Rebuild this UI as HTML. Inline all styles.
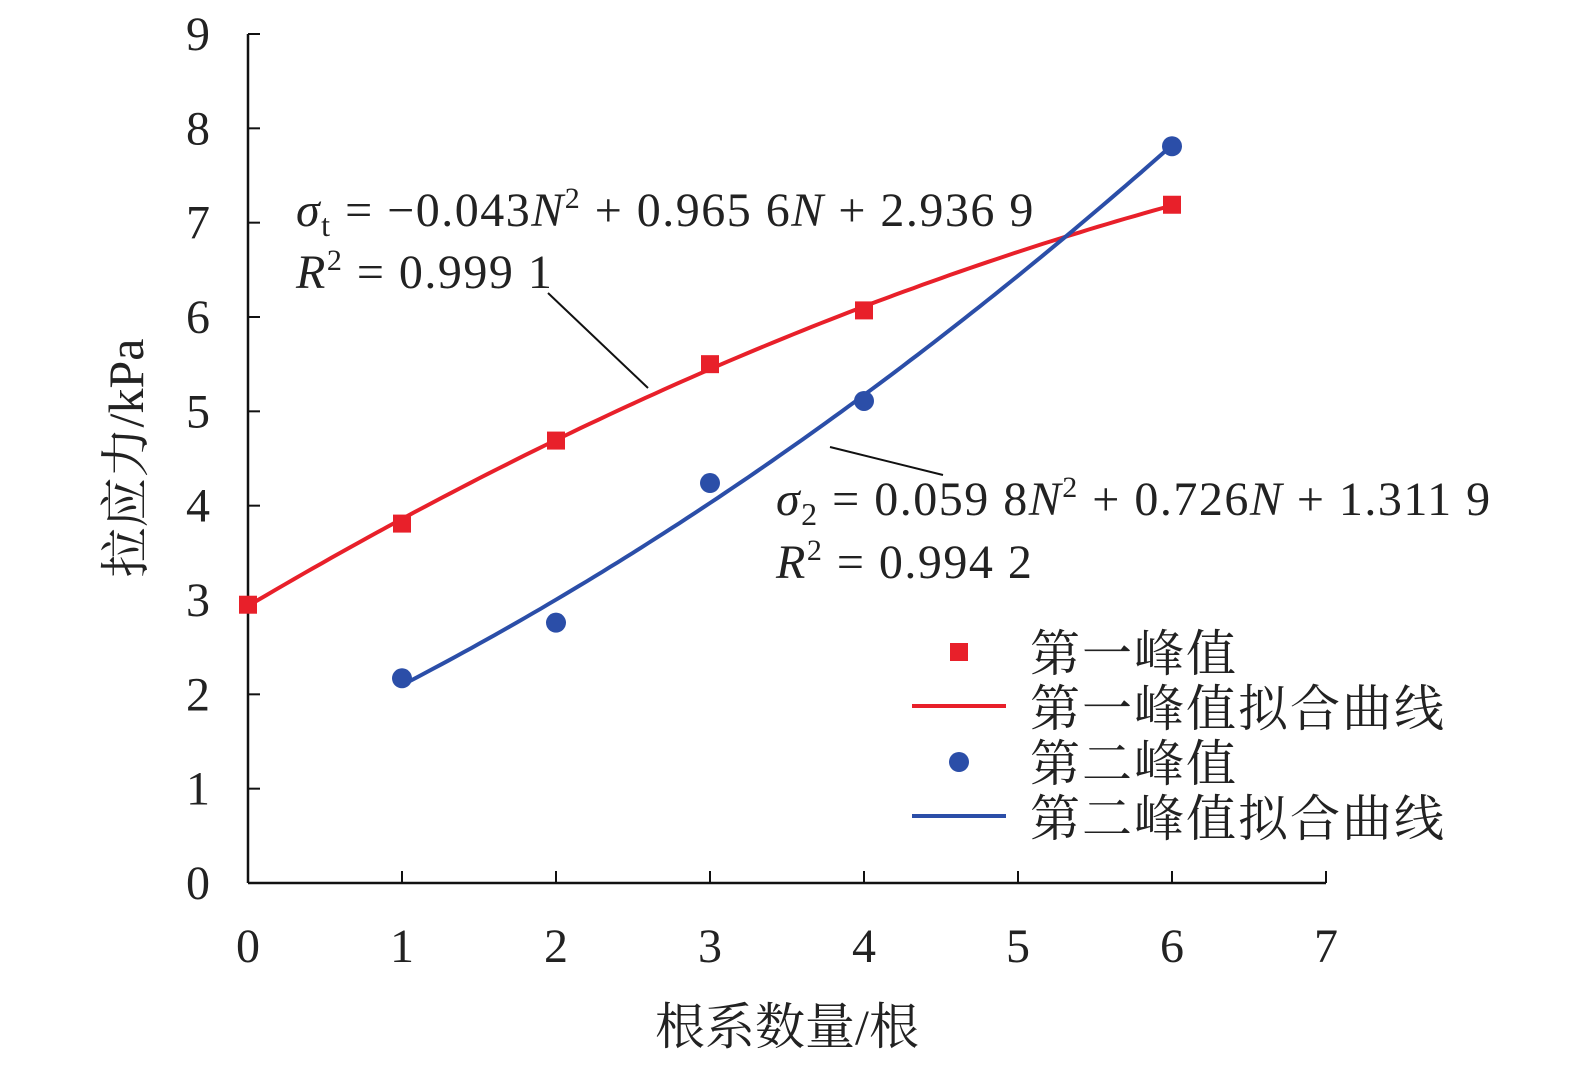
<!DOCTYPE html>
<html><head><meta charset="utf-8">
<style>
body{margin:0;background:#fff;}
svg text{font-family:"Liberation Serif","Noto Serif CJK SC",serif;fill:#222;}
</style></head>
<body>
<svg id="chart" width="1575" height="1064" viewBox="0 0 1575 1064" xmlns="http://www.w3.org/2000/svg">
<g id="axes"></g>
<g id="series"></g>
<g>
<text x="296" y="226" font-size="48" letter-spacing="1.5"><tspan font-style="italic">σ</tspan><tspan font-size="32" dy="10">t</tspan><tspan dy="-10"> = −0.043</tspan><tspan font-style="italic">N</tspan><tspan font-size="30" dy="-18">2</tspan><tspan dy="18"> + 0.965 6</tspan><tspan font-style="italic">N</tspan><tspan> + 2.936 9</tspan></text>
<text x="296" y="288" font-size="48" letter-spacing="1.5"><tspan font-style="italic">R</tspan><tspan font-size="30" dy="-18">2</tspan><tspan dy="18"> = 0.999 1</tspan></text>
<line x1="548" y1="293" x2="648" y2="388" stroke="#111" stroke-width="2"/>
</g>
<g>
<text x="776" y="515" font-size="48" letter-spacing="1.5"><tspan font-style="italic">σ</tspan><tspan font-size="32" dy="10">2</tspan><tspan dy="-10"> = 0.059 8</tspan><tspan font-style="italic">N</tspan><tspan font-size="30" dy="-18">2</tspan><tspan dy="18"> + 0.726</tspan><tspan font-style="italic">N</tspan><tspan> + 1.311 9</tspan></text>
<text x="776" y="578" font-size="48" letter-spacing="1.5"><tspan font-style="italic">R</tspan><tspan font-size="30" dy="-18">2</tspan><tspan dy="18"> = 0.994 2</tspan></text>
<line x1="830" y1="447" x2="943" y2="475" stroke="#111" stroke-width="2"/>
</g>
<g>
<rect x="950" y="643" width="18" height="18" fill="#e8202a"/>
<text x="1030" y="671" font-size="50" letter-spacing="2">第一峰值</text>
<line x1="912" y1="706" x2="1006" y2="706" stroke="#e8202a" stroke-width="4"/>
<text x="1030" y="726" font-size="50" letter-spacing="2">第一峰值拟合曲线</text>
<circle cx="959" cy="762" r="10" fill="#2b4ea8"/>
<text x="1030" y="781" font-size="50" letter-spacing="2">第二峰值</text>
<line x1="912" y1="816" x2="1006" y2="816" stroke="#2b4ea8" stroke-width="4"/>
<text x="1030" y="836" font-size="50" letter-spacing="2">第二峰值拟合曲线</text>
</g>
<text x="787" y="1044" font-size="50" text-anchor="middle">根系数量/根</text>
<text transform="translate(143,458) rotate(-90)" font-size="50" text-anchor="middle">拉应力/kPa</text>
</svg>
<script>
const xTicks=[0,1,2,3,4,5,6,7];
const yTicks=[0,1,2,3,4,5,6,7,8,9];
const firstX=[0,1,2,3,4,6];
const firstY=[2.95,3.81,4.69,5.50,6.07,7.19];
const secondX=[1,2,3,4,6];
const secondY=[2.17,2.76,4.24,5.11,7.81];
const fitFirst=[-0.043,0.9656,2.9369];
const fitSecond=[0.0598,0.726,1.3119];
const NS="http://www.w3.org/2000/svg";
const X0=248,X1=1326,Y0=883,Y1=34;
const sx=v=>X0+(X1-X0)*v/7;
const sy=v=>Y0-(Y0-Y1)*v/9;
function mk(t,a,p){const e=document.createElementNS(NS,t);for(const k in a)e.setAttribute(k,a[k]);p.appendChild(e);return e;}
const ax=document.getElementById('axes'),se=document.getElementById('series');
let l=mk('line',{x1:X0,y1:Y0,x2:X1,y2:Y0,stroke:'#111','stroke-width':2.5},ax);


l=mk('line',{x1:X0,y1:Y0,x2:X0,y2:Y1,stroke:'#111','stroke-width':2.5},ax);


xTicks.forEach(v=>{mk('line',{x1:sx(v),y1:Y0,x2:sx(v),y2:Y0-12,stroke:'#111','stroke-width':2},ax);
const t=mk('text',{x:sx(v),y:962,'font-size':48,'text-anchor':'middle'},ax);t.textContent=v;

});
yTicks.forEach(v=>{mk('line',{x1:X0,y1:sy(v),x2:X0+12,y2:sy(v),stroke:'#111','stroke-width':2},ax);
const t=mk('text',{x:210,y:sy(v)+16,'font-size':48,'text-anchor':'end'},ax);t.textContent=v;

});
function curve(c,a,b,col,name){let d='';for(let i=0;i<=100;i++){const x=a+(b-a)*i/100;const y=c[0]*x*x+c[1]*x+c[2];d+=(i?'L':'M')+sx(x).toFixed(1)+','+sy(y).toFixed(1);}
const p=mk('path',{d:d,fill:'none',stroke:col,'stroke-width':4},se);

}
curve(fitFirst,0,6,'#e8202a','first-fit-curve');
curve(fitSecond,1,6,'#2b4ea8','second-fit-curve');
firstX.forEach((x,i)=>{const r=mk('rect',{x:sx(x)-9,y:sy(firstY[i])-9,width:18,height:18,fill:'#e8202a'},se);

});
secondX.forEach((x,i)=>{const c=mk('circle',{cx:sx(x),cy:sy(secondY[i]),r:10,fill:'#2b4ea8'},se);

});
</script>
</body></html>
